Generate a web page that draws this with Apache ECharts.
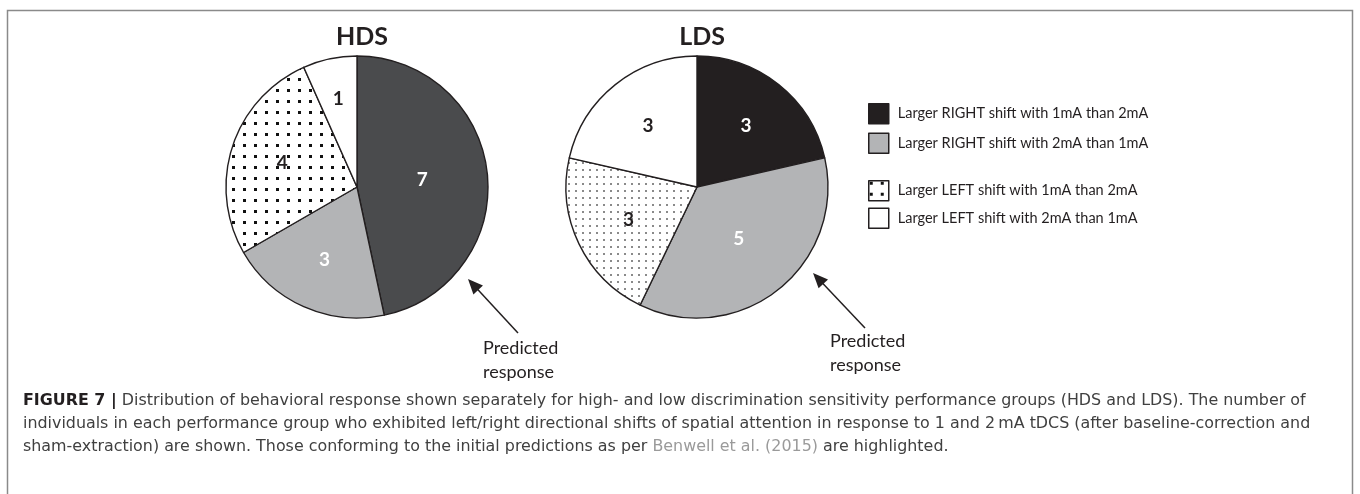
<!DOCTYPE html>
<html>
<head>
<meta charset="utf-8">
<script src="https://cdn.jsdelivr.net/npm/echarts@6/dist/echarts.min.js"></script>
<style>
html, body { margin: 0; padding: 0; background: #fff; }
#chart { width: 1360px; height: 494px; }
</style>
</head>
<body>
<div id="chart"></div>
<script>
// data
var categories = [
    'Larger RIGHT shift with 1mA than 2mA',
    'Larger RIGHT shift with 2mA than 1mA',
    'Larger LEFT shift with 1mA than 2mA',
    'Larger LEFT shift with 2mA than 1mA'
];
var hdsValues = [7, 3, 4, 1];
var ldsValues = [3, 5, 3, 3];
var groupNames = ['HDS', 'LDS'];
var noteText = 'Predicted\nresponse';
var captionLines = [
    '{b|FIGURE 7 |} Distribution of behavioral response shown separately for high- and low discrimination sensitivity performance groups (HDS and LDS). The number of',
    'individuals in each performance group who exhibited left/right directional shifts of spatial attention in response to 1 and 2\u202FmA tDCS (after baseline-correction and',
    'sham-extraction) are shown. Those conforming to the initial predictions as per {ref|Benwell et al. (2015)} are highlighted.'
];

var FONT = 'Lato, "Open Sans", sans-serif';
var CAP_FONT = '"DejaVu Sans", "Liberation Sans", sans-serif';
var EDGE = '#231f20';

// dotted fills
function dotPattern(size, dot, color) {
    var c = document.createElement('canvas');
    c.width = size; c.height = size;
    var g = c.getContext('2d');
    g.fillStyle = '#fff';
    g.fillRect(0, 0, size, size);
    g.fillStyle = color;
    g.fillRect(1, 1, dot, dot);
    return { image: c, repeat: 'repeat' };
}
var bigDots = dotPattern(11, 3, '#111');
var smallDots = dotPattern(7, 2, '#8a8a8a');

var hdsColors = ['#4a4b4d', '#b3b4b6', bigDots, '#ffffff'];
var ldsColors = ['#231f20', '#b3b4b6', smallDots, '#ffffff'];
var hdsLabelColors = ['#fff', '#fff', '#231f20', '#231f20'];
var ldsLabelColors = ['#fff', '#fff', '#231f20', '#231f20'];
// how far out each number sits (fraction of radius)
var hdsLabelR = [0.5, 0.61, 0.6, 0.69];
var ldsLabelR = [0.6, 0.51, 0.58, 0.6];

var R = 131;
var hdsCenter = [357, 187];
var ldsCenter = [697, 187];

function buildData(values, colors, labelColors) {
    return values.map(function (v, i) {
        return {
            name: categories[i],
            value: v,
            itemStyle: { color: colors[i] },
            label: { color: labelColors[i] }
        };
    });
}

function makeLabelLayout(values, center, fracs) {
    var total = values.reduce(function (a, b) { return a + b; }, 0);
    var mids = [], acc = 0;
    values.forEach(function (v) {
        mids.push((acc + v / 2) / total * 2 * Math.PI);
        acc += v;
    });
    return function (params) {
        var a = mids[params.dataIndex];
        var d = R * fracs[params.dataIndex];
        return {
            x: center[0] + Math.sin(a) * d,
            y: center[1] - Math.cos(a) * d,
            align: 'center',
            verticalAlign: 'middle'
        };
    };
}

function pieSeries(name, values, center, colors, labelColors, fracs) {
    return {
        type: 'pie',
        name: name,
        center: center,
        radius: R,
        startAngle: 90,
        clockwise: true,
        silent: true,
        animation: false,
        itemStyle: { borderColor: EDGE, borderWidth: 1.4 },
        label: {
            show: true,
            position: 'inside',
            formatter: '{c}',
            fontFamily: FONT,
            fontWeight: 'bold',
            fontSize: 19
        },
        labelLine: { show: false },
        labelLayout: makeLabelLayout(values, center, fracs),
        data: buildData(values, colors, labelColors)
    };
}

// arrow from tail to tip with a filled head
function arrow(tail, tip) {
    var dx = tip[0] - tail[0], dy = tip[1] - tail[1];
    var len = Math.sqrt(dx * dx + dy * dy);
    var ux = dx / len, uy = dy / len;
    var hl = 15, hw = 6.5;
    var bx = tip[0] - ux * hl, by = tip[1] - uy * hl;
    return [
        {
            type: 'line', silent: true,
            shape: { x1: tail[0], y1: tail[1], x2: bx + ux * 2, y2: by + uy * 2 },
            style: { stroke: EDGE, lineWidth: 1.5 }
        },
        {
            type: 'polygon', silent: true,
            shape: { points: [tip, [bx - uy * hw, by + ux * hw], [bx + uy * hw, by - ux * hw]] },
            style: { fill: EDGE }
        }
    ];
}

function note(x, y) {
    return {
        type: 'text', silent: true, x: x, y: y,
        style: {
            text: noteText, fontFamily: FONT, fontSize: 18, lineHeight: 24,
            fill: '#231f20', align: 'left', verticalAlign: 'top'
        }
    };
}

var myChart = echarts.init(document.getElementById('chart'), null, { renderer: 'canvas' });

var legendText = { fontFamily: FONT, fontSize: 14.5, lineHeight: 18, color: '#231f20', padding: [0, 0, 0, 4] };

var option = {
    backgroundColor: '#fff',
    animation: false,
    title: groupNames.map(function (g, i) {
        return {
            text: g,
            left: (i === 0 ? hdsCenter : ldsCenter)[0],
            top: 19,
            textAlign: 'center',
            textStyle: { fontFamily: FONT, fontWeight: 'bold', fontSize: 25, color: '#231f20' }
        };
    }),
    legend: [
        {
            orient: 'vertical', left: 868, top: 103, padding: 0,
            itemWidth: 20, itemHeight: 20, itemGap: 8,
            icon: 'rect', selectedMode: false,
            itemStyle: { borderColor: EDGE, borderWidth: 1.5 },
            textStyle: legendText,
            data: [
                { name: categories[0], itemStyle: { color: '#231f20' } },
                { name: categories[1], itemStyle: { color: '#b3b4b6' } }
            ]
        },
        {
            orient: 'vertical', left: 868, top: 180, padding: 0,
            itemWidth: 20, itemHeight: 20, itemGap: 6,
            icon: 'rect', selectedMode: false,
            itemStyle: { borderColor: EDGE, borderWidth: 1.5 },
            textStyle: legendText,
            data: [
                { name: categories[2], itemStyle: { color: bigDots } },
                { name: categories[3], itemStyle: { color: '#ffffff' } }
            ]
        }
    ],
    graphic: [
        // figure frame
        {
            type: 'rect', silent: true,
            shape: { x: 7.5, y: 10.5, width: 1345, height: 600 },
            style: { fill: 'none', stroke: '#8a8a8a', lineWidth: 1.5 }
        }
    ].concat(
        arrow([518, 333], [468, 279]),
        arrow([865, 328], [813, 273]),
        [note(483, 336), note(830, 329)],
        captionLines.map(function (line, i) {
            return {
                type: 'text', silent: true, x: 23, y: 401 + i * 23,
                style: {
                    text: line,
                    fontFamily: CAP_FONT,
                    fontSize: 15.9,
                    fill: '#404040',
                    verticalAlign: 'middle',
                    rich: {
                        b: { fontFamily: CAP_FONT, fontSize: 15.9, fontWeight: 'bold', fill: '#231f20' },
                        ref: { fontFamily: CAP_FONT, fontSize: 15.9, fill: '#9a9a9a' }
                    }
                }
            };
        })
    ),
    series: [
        pieSeries(groupNames[0], hdsValues, hdsCenter, hdsColors, hdsLabelColors, hdsLabelR),
        pieSeries(groupNames[1], ldsValues, ldsCenter, ldsColors, ldsLabelColors, ldsLabelR)
    ]
};

myChart.setOption(option);
</script>
</body>
</html>
